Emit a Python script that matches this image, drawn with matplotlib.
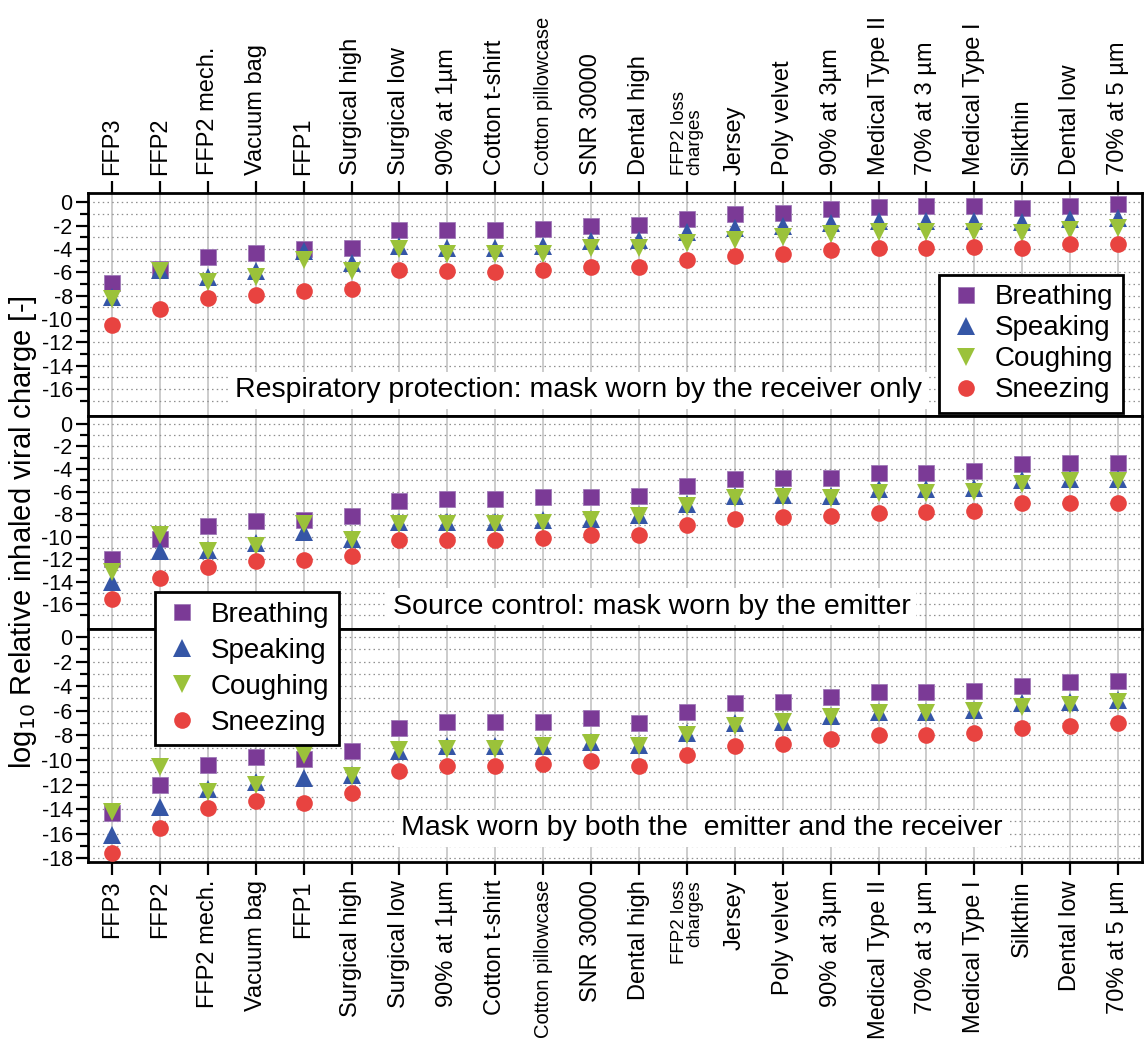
import matplotlib
matplotlib.use("Agg")
import matplotlib.pyplot as plt
from matplotlib.ticker import FixedLocator

plt.rcParams['font.family'] = ['Liberation Sans', 'DejaVu Sans']
plt.rcParams['axes.unicode_minus'] = False

# Mask / material categories
materials = ["FFP3", "FFP2", "FFP2 mech.", "Vacuum bag", "FFP1", "Surgical high",
             "Surgical low", "90% at 1µm", "Cotton t-shirt", "Cotton pillowcase",
             "SNR 30000", "Dental high", "FFP2 loss\ncharges", "Jersey", "Poly velvet",
             "90% at 3µm", "Medical Type II", "70% at 3 µm", "Medical Type I",
             "Silkthin", "Dental low", "70% at 5 µm"]

# Respiratory protection: mask worn by the receiver only
receiver_breathing = [-6.9, -5.7, -4.7, -4.3, -4.0, -3.9, -2.4, -2.4, -2.4, -2.3, -2.0,
                      -1.9, -1.4, -1.0, -0.9, -0.6, -0.4, -0.3, -0.3, -0.5, -0.3, -0.1]
receiver_speaking = [-8.1, -5.8, -6.4, -5.9, -4.2, -5.2, -3.7, -3.9, -3.9, -3.7, -3.3,
                     -3.2, -2.5, -2.2, -2.0, -1.8, -1.6, -1.6, -1.6, -1.7, -1.4, -1.3]
receiver_coughing = [-8.3, -5.9, -6.8, -6.4, -4.9, -5.9, -4.0, -4.4, -4.4, -4.4, -3.9,
                     -3.9, -3.5, -3.2, -3.0, -2.7, -2.5, -2.5, -2.5, -2.6, -2.4, -2.2]
receiver_sneezing = [-10.5, -9.1, -8.2, -7.9, -7.6, -7.4, -5.8, -5.9, -6.0, -5.8, -5.5,
                     -5.5, -4.9, -4.6, -4.4, -4.1, -3.9, -3.9, -3.8, -3.9, -3.6, -3.6]

# Source control: mask worn by the emitter
emitter_breathing = [-12.0, -10.2, -9.1, -8.6, -8.5, -8.2, -6.8, -6.7, -6.7, -6.5, -6.5,
                     -6.4, -5.5, -4.9, -4.8, -4.8, -4.4, -4.4, -4.2, -3.6, -3.5, -3.5]
emitter_speaking = [-14.0, -11.3, -11.2, -10.6, -9.6, -10.2, -8.7, -8.7, -8.7, -8.5, -8.4,
                    -8.1, -7.1, -6.4, -6.3, -6.4, -5.8, -5.8, -5.7, -5.0, -4.9, -4.9]
emitter_coughing = [-13.1, -9.9, -11.3, -10.8, -8.9, -10.3, -8.9, -8.9, -8.9, -8.8, -8.5,
                    -8.2, -7.3, -6.6, -6.5, -6.6, -6.1, -6.1, -6.0, -5.3, -5.1, -5.1]
emitter_sneezing = [-15.5, -13.7, -12.7, -12.2, -12.1, -11.7, -10.3, -10.3, -10.3, -10.1, -9.9,
                    -9.9, -9.0, -8.4, -8.3, -8.2, -7.9, -7.8, -7.7, -7.0, -7.0, -7.0]

# Mask worn by both the emitter and the receiver
both_breathing = [-14.3, -12.0, -10.4, -9.8, -9.9, -9.3, -7.4, -6.9, -6.9, -6.9, -6.6,
                  -7.0, -6.1, -5.4, -5.3, -4.9, -4.5, -4.5, -4.4, -4.0, -3.7, -3.6]
both_speaking = [-16.1, -13.8, -12.4, -11.8, -11.5, -11.2, -9.3, -8.9, -8.9, -8.9, -8.5,
                 -8.8, -7.8, -7.0, -6.9, -6.4, -6.1, -6.1, -5.9, -5.4, -5.3, -5.1]
both_coughing = [-14.2, -10.6, -12.6, -12.0, -9.6, -11.3, -9.2, -9.1, -9.1, -8.9, -8.6,
                 -8.9, -8.0, -7.2, -6.9, -6.5, -6.2, -6.2, -6.0, -5.7, -5.5, -5.3]
both_sneezing = [-17.6, -15.5, -13.9, -13.3, -13.5, -12.7, -10.9, -10.5, -10.5, -10.3, -10.1,
                 -10.5, -9.6, -8.9, -8.7, -8.3, -8.0, -8.0, -7.8, -7.4, -7.2, -7.0]

activities = ["Breathing", "Speaking", "Coughing", "Sneezing"]
panel_titles = ["Respiratory protection: mask worn by the receiver only",
                "Source control: mask worn by the emitter",
                "Mask worn by both the  emitter and the receiver"]

styles = {
    "Breathing": dict(marker="s", color="#7b3a96", ms=11, mec="#a07ab8", mew=0.6),
    "Speaking": dict(marker="^", color="#3556a6", ms=12.5, mec="#3556a6", mew=0),
    "Coughing": dict(marker="v", color="#9bc23a", ms=12.5, mec="#9bc23a", mew=0),
    "Sneezing": dict(marker="o", color="#e84340", ms=12, mec="#e84340", mew=0),
}

panels = [
    [receiver_breathing, receiver_speaking, receiver_coughing, receiver_sneezing],
    [emitter_breathing, emitter_speaking, emitter_coughing, emitter_sneezing],
    [both_breathing, both_speaking, both_coughing, both_sneezing],
]
ylims = [(-18.3, 0.8), (-18.2, 0.7), (-18.3, 0.65)]
ylabel_ticks = [range(0, -17, -2), range(0, -17, -2), range(0, -19, -2)]

W, H = 1147, 1052
fig = plt.figure(figsize=(W / 100, H / 100), dpi=100)
left, right = 88 / W, 1142 / W
edges = [193, 416, 629, 862]
axes = []
for i in range(3):
    y0 = 1 - edges[i + 1] / H
    h = (edges[i + 1] - edges[i]) / H
    axes.append(fig.add_axes([left, y0, right - left, h]))

x = list(range(len(materials)))
text_pos = [(0.465, 0.115), (0.535, 0.105), (0.582, 0.145)]

for i, ax in enumerate(axes):
    for name, series in zip(activities, panels[i]):
        st = styles[name]
        ax.plot(x, series, linestyle="none", marker=st["marker"], color=st["color"],
                markersize=st["ms"], markeredgecolor=st["mec"], markeredgewidth=st["mew"],
                label=name, zorder=3)
    ax.set_xlim(-0.5, len(materials) - 0.5)
    ax.set_ylim(*ylims[i])
    ax.yaxis.set_major_locator(FixedLocator(list(ylabel_ticks[i])))
    ax.yaxis.set_minor_locator(FixedLocator(list(range(-1, -18, -2))))
    ax.set_yticklabels([str(v) for v in ylabel_ticks[i]])
    ax.set_axisbelow(True)
    ax.yaxis.grid(True, which="both", linestyle=(0, (1.2, 2.6)), color="#8f8f8f", linewidth=0.9)
    ax.xaxis.grid(True, which="major", linestyle="-", color="#c8c8c8", linewidth=1.3)
    ax.set_xticks(x)
    ax.tick_params(axis="y", which="major", direction="out", length=9, width=1.6,
                   labelsize=15.5, pad=2)
    ax.tick_params(axis="y", which="minor", direction="out", length=5.5, width=1.6)
    for sp in ax.spines.values():
        sp.set_linewidth(2.0)
    ax.text(text_pos[i][0], text_pos[i][1], panel_titles[i], transform=ax.transAxes,
            ha="center", va="center", fontsize=20.5, zorder=2,
            bbox=dict(facecolor="white", edgecolor="none", pad=4))
    if i == 0:
        ax.tick_params(axis="x", which="both", top=True, bottom=False, labeltop=True,
                       labelbottom=False, direction="out", length=9, width=1.6, pad=4)
        ax.set_xticklabels(materials, rotation=90, fontsize=17, va="bottom", ha="center")
        for lab in ax.get_xticklabels():
            lab.set_multialignment("left")
    elif i == 2:
        ax.tick_params(axis="x", which="both", top=False, bottom=True, labeltop=False,
                       labelbottom=True, direction="out", length=9, width=1.6, pad=4)
        ax.set_xticklabels(materials, rotation=90, fontsize=17, va="top", ha="center")
        for lab in ax.get_xticklabels():
            lab.set_multialignment("right")
    else:
        ax.tick_params(axis="x", which="both", top=False, bottom=False,
                       labeltop=False, labelbottom=False, length=0)
    for lab in ax.get_xticklabels():
        t = lab.get_text()
        if t == "Cotton pillowcase":
            lab.set_fontsize(14.5)
        elif t.startswith("FFP2 loss"):
            lab.set_fontsize(13.5)
            lab.set_linespacing(0.85)

# Legends
leg_kw = dict(fontsize=20, frameon=True, fancybox=False, edgecolor="black",
              borderaxespad=0, handletextpad=0.45, handlelength=1.2, borderpad=0.35,
              framealpha=1)
leg1 = axes[0].legend(loc="lower right", bbox_to_anchor=(0.982, 0.013),
                      labelspacing=0.18, **leg_kw)
leg1.get_frame().set_linewidth(2.0)
leg2 = axes[2].legend(loc="upper left", bbox_to_anchor=(0.064, 1.159),
                      labelspacing=0.36, **leg_kw)
leg2.get_frame().set_linewidth(2.0)
leg2.set_zorder(10)

fig.text(0.02, 0.494, r"log$_{10}$ Relative inhaled viral charge [-]", rotation=90,
         ha="center", va="center", fontsize=21)

fig.savefig("out.png", dpi=100)
